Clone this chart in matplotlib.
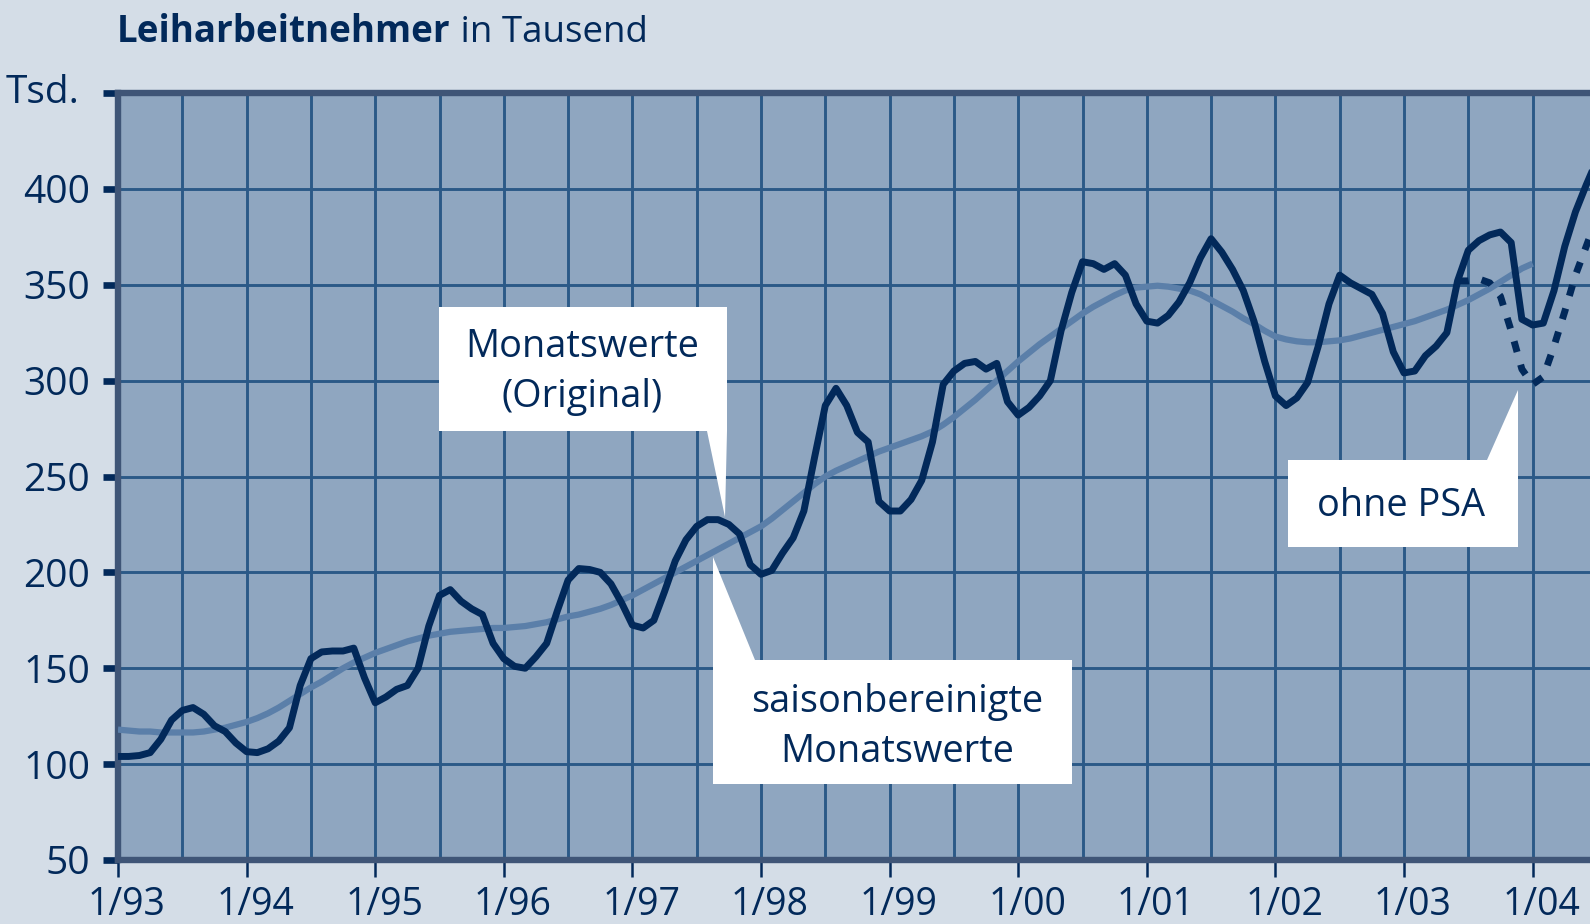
import matplotlib
matplotlib.use('Agg')
import matplotlib.pyplot as plt
import matplotlib.transforms as mtransforms
import numpy as np
from matplotlib.patches import Polygon
from matplotlib.ticker import MultipleLocator

# Monatswerte (Original), Jan 1993 - Jul 2004, Tsd.
orig = [104, 104, 104.5, 106, 113, 123, 128, 129.5, 126, 120, 117, 111,
        106.5, 106, 108, 112, 119, 141, 155, 158.5, 159, 159, 160.5, 145,
        132, 135, 139, 141, 150, 172, 188, 191, 185, 181, 178, 163,
        155, 151, 150, 156, 163, 180, 196, 202, 201.5, 200, 194, 184,
        172.5, 171, 175, 190, 206, 217, 224, 227.5, 227.5, 225, 220, 204,
        199, 201, 210, 218, 232, 260, 287, 296, 287, 273, 268, 237,
        232, 232, 238, 248, 268, 298, 305, 309, 310, 306, 309, 289,
        282, 286, 292, 300, 326, 346, 362, 361, 358, 361, 355, 340,
        331, 330, 334, 341, 351, 364, 374, 367, 358, 347, 331, 310,
        292, 287, 291, 299, 318, 340, 355, 351, 348, 345, 335, 315,
        304, 305, 313, 318, 325, 352, 368, 373, 376, 377.5, 372, 332,
        329, 330, 347, 370, 388, 402, 415]

# saisonbereinigte Monatswerte, Jan 1993 - Jan 2004
sa = [118, 117.5, 117, 117, 116.5, 116.5, 116.5, 116.5, 117, 118, 119, 120.5,
      122, 124, 126.5, 129.5, 133, 136.5, 140, 143, 146.5, 150, 153, 155.5,
      158, 160, 162, 164, 165.5, 167, 168, 169, 169.5, 170, 170.5, 171,
      171, 171.5, 172, 173, 174, 175.5, 177, 178, 179.5, 181, 183, 185.5,
      188, 191, 194, 197, 200, 203, 206, 209, 212, 215, 218, 221,
      224, 228, 232.5, 237, 241.5, 246, 250, 253, 255.5, 258, 260.5, 263,
      265, 267, 269, 271, 273.5, 277, 281, 285.5, 290, 295, 300, 305,
      310, 314.5, 319, 323, 327, 331, 335, 338.5, 341.5, 344.5, 347, 348.5,
      349, 349.5, 349, 348, 347, 345, 342, 339, 336, 332.5, 329.5, 326,
      323, 321.5, 320.5, 320, 320, 320.5, 321, 322, 323.5, 325, 326.5, 328,
      329.5, 331, 333, 335, 337, 339.5, 342, 345, 348, 351.5, 355, 358.5,
      361]

# ohne PSA, Jun 2003 - Jul 2004
ohne_psa = [352, 352, 353, 351, 344, 326, 306, 298, 302, 318, 336, 355, 370, 385]

yticks = [50, 100, 150, 200, 250, 300, 350, 400, 450]
ylabels = ['50', '100', '150', '200', '250', '300', '350', '400', '']
years = list(range(1993, 2005))
xlabels = ['1/%02d' % (y % 100) for y in years]

t_orig = 1993 + np.arange(len(orig)) / 12
t_sa = 1993 + np.arange(len(sa)) / 12
t_psa = 2003 + 5 / 12 + np.arange(len(ohne_psa)) / 12

W, H = 1590, 924
FIGBG = '#d4dde7'
AXBG = '#8fa6c0'
GRID = '#2b5987'
SPINE = '#3f5577'
NAVY = '#02295a'
SACOL = '#5b7fa9'

plt.rcParams['font.family'] = ['Open Sans', 'DejaVu Sans']

fig = plt.figure(figsize=(W / 100, H / 100), dpi=100, facecolor=FIGBG)
ax = fig.add_axes([118 / W, 1 - 860 / H, 1 - 118 / W, 767 / H])
ax.set_facecolor(AXBG)

def px(x, y):
    return (x / W, 1 - y / H)

ax.set_xlim(1993, 1993 + (W - 118) / 128.6)
ax.set_ylim(50, 450)
ax.set_xticks(years)
ax.set_xticklabels(xlabels)
ax.xaxis.set_minor_locator(MultipleLocator(0.5))
ax.set_yticks(yticks)
ax.set_yticklabels(ylabels)

ax.grid(True, which='both', axis='x', color=GRID, lw=2.1, zorder=1)
ax.grid(True, which='major', axis='y', color=GRID, lw=2.1, zorder=1)
ax.set_axisbelow(True)

for s in ['left', 'bottom', 'top']:
    ax.spines[s].set_color(SPINE)
    ax.spines[s].set_linewidth(4.6)
ax.spines['right'].set_visible(False)

ax.tick_params(axis='y', which='major', length=11, width=4.8, color=NAVY,
               pad=9, labelsize=28, labelcolor=NAVY)
ax.tick_params(axis='x', which='major', length=12, width=1.8, color=NAVY,
               pad=7, labelsize=27, labelcolor=NAVY)
ax.tick_params(axis='x', which='minor', length=0)

shift = mtransforms.ScaledTranslation(9 / 100, 0, fig.dpi_scale_trans)
for lab in ax.get_xticklabels():
    lab.set_transform(lab.get_transform() + shift)

ax.plot(t_sa, sa, color=SACOL, lw=4.5, solid_capstyle='butt', zorder=3)
ax.plot(t_psa, ohne_psa, color=NAVY, lw=5, ls=(0, (1.6, 1.9)), zorder=4)
ax.plot(t_orig, orig, color=NAVY, lw=5, solid_joinstyle='round', zorder=5)

# callouts (figure pixel coordinates)
callouts = [
    [(439, 307), (727, 307), (727, 431), (725, 517), (707, 431), (439, 431)],
    [(713, 557), (755, 660), (1072, 660), (1072, 784), (713, 784)],
    [(1288, 460), (1487, 460), (1518, 390), (1518, 547), (1288, 547)],
]
for pts in callouts:
    ax.add_patch(Polygon([px(*p) for p in pts], closed=True, facecolor='white',
                         edgecolor='none', transform=fig.transFigure,
                         clip_on=False, zorder=2.5))

tkw = dict(ha='center', va='center', fontsize=27.3, color=NAVY)
fig.text(*px(582, 347), 'Monatswerte', **tkw)
fig.text(*px(582, 397), '(Original)', **tkw)
fig.text(*px(897, 702), 'saisonbereinigte', **tkw)
fig.text(*px(897, 752), 'Monatswerte', **tkw)
fig.text(*px(1401, 506), 'ohne PSA', **tkw)

fig.text(*px(79, 93), 'Tsd.', ha='right', va='center', fontsize=28, color=NAVY)

t1 = fig.text(*px(117, 42), 'Leiharbeitnehmer', ha='left', va='baseline',
              fontsize=26.5, fontweight='bold', color=NAVY)
fig.canvas.draw()
bb = t1.get_window_extent()
fig.text(bb.x1 / W, 1 - 42 / H, ' in Tausend', ha='left', va='baseline',
         fontsize=26.5, color=NAVY)

fig.savefig('out.png', dpi=100, facecolor=FIGBG)
